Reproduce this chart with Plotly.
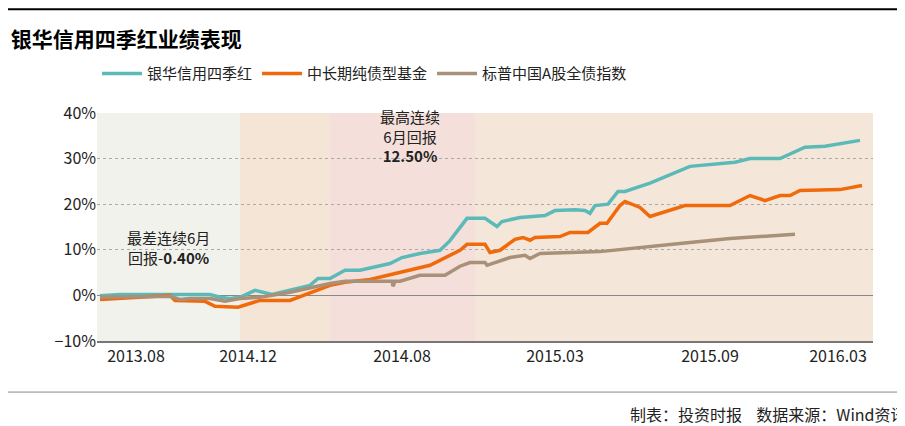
import pandas as pd
import plotly.express as px


def line_analysis(series: dict, out: str):
    rows = []
    for name, points in series.items():
        for x, y in points:
            rows.append({'x': x, 'value': y, 'name': name})
    df = pd.DataFrame(rows)
    fig = px.line(df, x='x', y='value', color='name', width=905, height=426,
                  color_discrete_sequence=['#5bbab8', '#f06a0c', '#a89079'])
    fig.update_traces(line_width=3.5)
    fig.update_layout(title=dict(text='<b>银华信用四季红业绩表现</b>', x=0.003, y=0.925, yanchor='middle',
                                 font=dict(size=21, color='black')),
                      font=dict(family='Noto Sans CJK SC', size=15, color='#222'),
                      plot_bgcolor='white', paper_bgcolor='white',
                      margin=dict(l=89, r=40, t=105, b=93),
                      legend=dict(orientation='h', x=0.0, y=1.1, xanchor='left', yanchor='bottom',
                                  title_text='', font=dict(size=15), itemwidth=40),
                      xaxis_title=None, yaxis_title=None)
    fig.update_xaxes(range=[97, 873], tickvals=[136, 248, 402, 555, 710, 838],
                     ticktext=['2013.08', '2014.12', '2014.08', '2015.03', '2015.09', '2016.03'],
                     showgrid=False, showline=True, linecolor='#777', linewidth=1.5,
                     ticks='', tickfont=dict(size=16))
    fig.update_yaxes(range=[-10, 40], tickvals=[-10, 0, 10, 20, 30, 40],
                     ticktext=['−10%', '0%', '10%', '20%', '30%', '40%'],
                     showgrid=True, gridcolor='#aaa', griddash='dot', gridwidth=1,
                     zeroline=True, zerolinecolor='#888', zerolinewidth=1,
                     ticks='', tickfont=dict(size=16))
    bands = [(97, 240, '#f2f2ec'), (240, 330, '#f4e5d6'), (330, 475, '#f5dfda'), (475, 873, '#f4e7d9')]
    for x0, x1, c in bands:
        fig.add_vrect(x0=x0, x1=x1, fillcolor=c, opacity=1, line_width=0, layer='below')
    fig.add_annotation(x=168, y=10.5, text='最差连续6月<br>回报-<b>0.40%</b>', showarrow=False,
                       font=dict(size=15, color='#222'))
    fig.add_annotation(x=410, y=35, text='最高连续<br>6月回报<br><b>12.50%</b>', showarrow=False,
                       font=dict(size=15, color='#222'))
    fig.add_shape(type='line', xref='paper', yref='paper', x0=-0.12, x1=1.05, y0=1.455, y1=1.455,
                  line=dict(color='black', width=2))
    fig.add_shape(type='line', xref='paper', yref='paper', x0=-0.12, x1=1.05, y0=-0.224, y1=-0.224,
                  line=dict(color='#888', width=1))
    fig.add_annotation(xref='paper', yref='paper', x=1.045, y=-0.26, xanchor='right', yanchor='top',
                       text='制表：投资时报    数据来源：Wind资讯', showarrow=False,
                       font=dict(size=16, color='#222'))
    fig.write_html(out)


series = {
    '银华信用四季红': [(100, -0.1), (120, 0.2), (170, 0.2), (210, 0.2), (220, -0.4), (230, -0.7),
                 (240, -0.4), (255, 1.1), (272, 0.2), (290, 1.1), (310, 2.2), (318, 3.7), (330, 3.7),
                 (345, 5.5), (360, 5.5), (390, 7.0), (402, 8.3), (420, 9.2), (440, 9.9), (450, 12.0),
                 (467, 16.9), (485, 16.9), (497, 15.1), (502, 16.2), (520, 17.1), (545, 17.5),
                 (555, 18.6), (575, 18.8), (585, 18.6), (590, 18.0), (595, 19.7), (608, 20.0),
                 (618, 22.8), (625, 22.8), (650, 24.6), (690, 28.3), (735, 29.2), (750, 30.0),
                 (780, 30.0), (805, 32.5), (825, 32.7), (860, 34.0)],
    '中长期纯债型基金': [(100, -0.9), (150, -0.2), (170, 0.0), (175, -1.1), (205, -1.3), (215, -2.4),
                 (238, -2.6), (260, -1.1), (290, -1.1), (330, 2.2), (345, 2.9), (370, 3.5), (400, 5.0),
                 (430, 6.6), (460, 9.9), (467, 11.2), (485, 11.2), (490, 9.4), (500, 9.9), (515, 12.3),
                 (523, 12.7), (530, 12.1), (535, 12.7), (560, 12.9), (570, 13.8), (588, 13.8),
                 (600, 15.8), (607, 15.8), (620, 19.7), (625, 20.6), (640, 19.3), (650, 17.3),
                 (685, 19.7), (730, 19.7), (750, 21.9), (765, 20.8), (780, 21.9), (790, 21.9),
                 (800, 23.0), (840, 23.2), (862, 24.1)],
    '标普中国A股全债指数': [(100, -0.4), (170, -0.2), (180, -0.9), (190, -0.7), (210, -0.7), (225, -1.3),
                   (240, -0.7), (260, -0.4), (290, 0.7), (330, 2.6), (345, 3.1), (380, 3.1), (392, 3.1),
                   (393, 2.0), (395, 3.1), (400, 3.1), (420, 4.4), (445, 4.4), (460, 6.4), (470, 7.2),
                   (485, 7.2), (487, 6.6), (510, 8.3), (525, 8.8), (530, 8.1), (540, 9.2), (600, 9.6),
                   (680, 11.4), (730, 12.5), (795, 13.4)],
}

line_analysis(series, 'out.html')
